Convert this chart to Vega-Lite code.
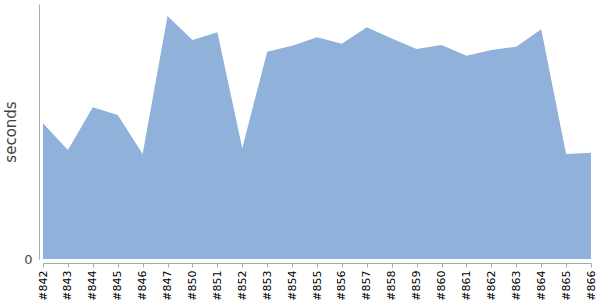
{
  "$schema": "https://vega.github.io/schema/vega-lite/v6.json",
  "width": 548,
  "height": 255,
  "autosize": {"type": "none"},
  "padding": {"left": 43, "top": 4, "right": 9, "bottom": 41},
  "config": {"view": {"stroke": null}, "font": "DejaVu Sans"},
  "data": {"values": [
    {"build": "#842", "seconds": 135.7},
    {"build": "#843", "seconds": 109},
    {"build": "#844", "seconds": 151.7},
    {"build": "#845", "seconds": 144},
    {"build": "#846", "seconds": 105},
    {"build": "#847", "seconds": 243},
    {"build": "#850", "seconds": 219},
    {"build": "#851", "seconds": 226.7},
    {"build": "#852", "seconds": 110.7},
    {"build": "#853", "seconds": 207.3},
    {"build": "#854", "seconds": 213.3},
    {"build": "#855", "seconds": 221.7},
    {"build": "#856", "seconds": 215.3},
    {"build": "#857", "seconds": 231.7},
    {"build": "#858", "seconds": 220.5},
    {"build": "#859", "seconds": 210},
    {"build": "#860", "seconds": 214},
    {"build": "#861", "seconds": 203.3},
    {"build": "#862", "seconds": 209},
    {"build": "#863", "seconds": 212.3},
    {"build": "#864", "seconds": 229.7},
    {"build": "#865", "seconds": 105},
    {"build": "#866", "seconds": 106.3}
  ]},
  "mark": {"type": "area", "color": "#8fb1da", "opacity": 1, "interpolate": "linear"},
  "encoding": {
    "x": {
      "field": "build", "type": "ordinal", "sort": null,
      "scale": {"type": "point", "padding": 0},
      "axis": {
        "title": null, "labelAngle": -90, "labelFontSize": 11, "labelColor": "#000",
        "offset": 4, "domainColor": "#aaa", "tickColor": "#aaa", "tickSize": 4,
        "labelPadding": 3, "grid": false
      }
    },
    "y": {
      "field": "seconds", "type": "quantitative",
      "scale": {"domain": [0, 255], "nice": false},
      "axis": {
        "title": "seconds", "titleFontSize": 15, "titleFontWeight": "normal", "titleColor": "#444",
        "titlePadding": 5, "values": [0], "labelFontSize": 13, "labelColor": "#444",
        "offset": 4, "domainColor": "#aaa", "ticks": false, "labelPadding": 7, "grid": false
      }
    }
  }
}
